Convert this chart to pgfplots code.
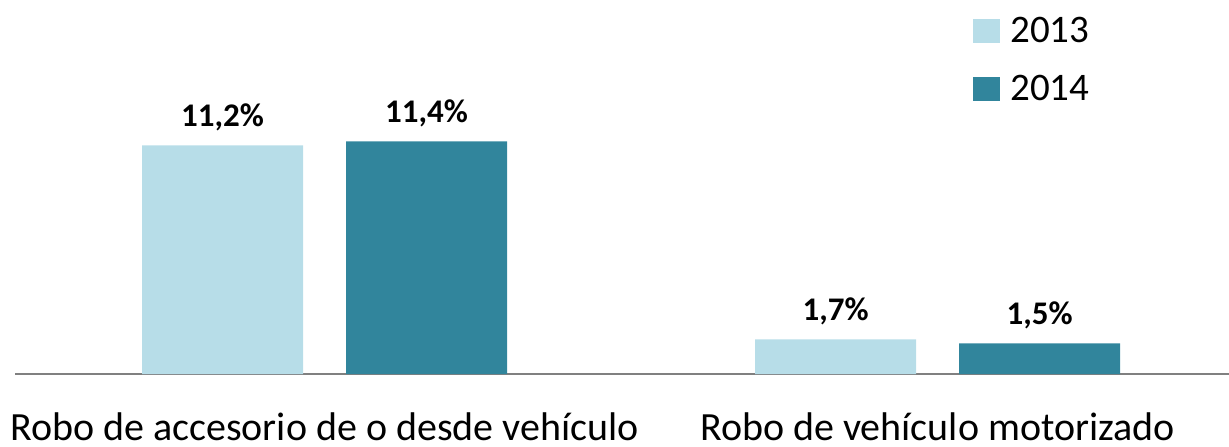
\documentclass[border=0pt]{standalone}
\usepackage{pgfplots}
\pgfplotsset{compat=1.18}
\usepackage{fontspec}
\setmainfont{Carlito}
\definecolor{light}{HTML}{B7DDE8}
\definecolor{dark}{HTML}{31859C}
\definecolor{axisgray}{HTML}{808080}
\begin{document}
\begin{tikzpicture}
\useasboundingbox (0,0) rectangle (614.5pt,223pt);
\begin{axis}[
  at={(7.5pt,36pt)}, anchor=south west,
  scale only axis, width=607pt, height=187pt,
  xmin=-0.505, xmax=1.4755, ymin=0, ymax=18.33,
  ybar=21.5pt, bar width=80.5pt,
  axis x line*=bottom, axis y line=none,
  x axis line style={axisgray, line width=1.2pt},
  xtick={0,1}, xtick style={draw=none},
  xticklabels={Robo de accesorio de o desde vehículo, Robo de vehículo motorizado},
  xticklabel style={anchor=base, inner sep=0pt, text depth=0pt, yshift=-29pt, font=\fontsize{20}{23}\selectfont},
  ytick=\empty,
  /pgf/number format/assume math mode=true,
  /pgf/number format/.cd, use comma, fixed, fixed zerofill, precision=1, /pgfplots/.cd,
  nodes near coords={\pgfmathprintnumber{\pgfplotspointmeta}\%},
  every node near coord/.append style={font=\fontsize{16.5}{19}\selectfont\bfseries, anchor=base, inner sep=0pt, yshift=9.5pt, text=black},
  legend style={at={(rel axis cs:0.789,0.967)}, anchor=north west, draw=none, fill=none, inner sep=0pt,
    font=\fontsize{19.5}{22}\selectfont, row sep=11pt, legend cell align=left},
  legend image code/.code={\path[#1,draw=none] (0pt,-6pt) rectangle (13.5pt,6pt);},
  /tikz/every odd column/.append style={column sep=3pt},
]
\addplot[fill=light, draw=none] coordinates {(0,11.2) (1,1.7)};
\addplot[fill=dark, draw=none] coordinates {(0,11.4) (1,1.5)};
\legend{2013,2014}
\end{axis}
\end{tikzpicture}
\end{document}
